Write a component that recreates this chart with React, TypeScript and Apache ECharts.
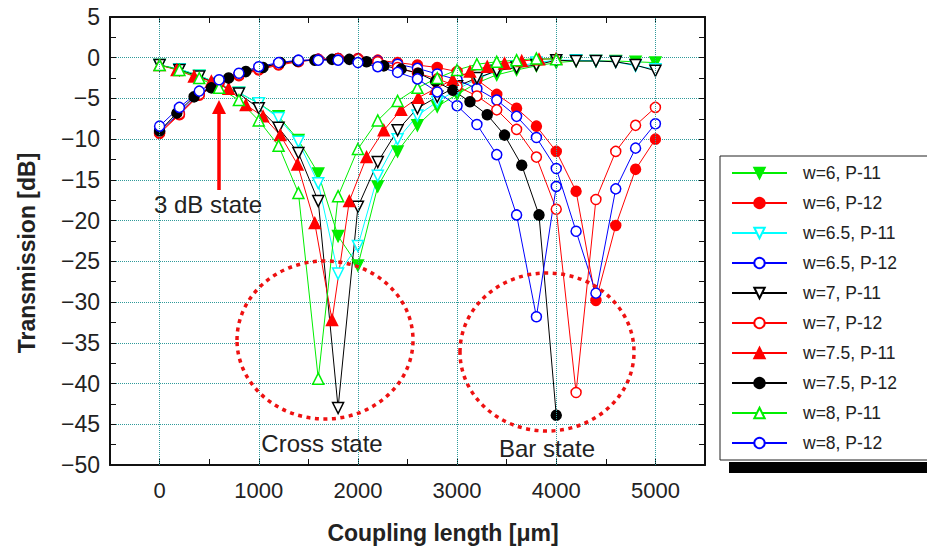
import React, { useEffect, useRef } from "react";
import * as echarts from "echarts";

// Coupling lengths (µm)
const L200 = [0, 200, 400, 600, 800, 1000, 1200, 1400, 1600, 1800, 2000, 2200, 2400, 2600, 2800, 3000, 3200, 3400, 3600, 3800, 4000, 4200, 4400, 4600, 4800, 5000];
const L174 = [0, 174, 348, 522, 696, 870, 1043, 1217, 1391, 1565, 1739, 1913, 2087, 2261, 2435, 2609, 2783, 2957, 3130, 3304, 3478, 3652, 3826, 4000];

// Transmission (dB)
const w6P11 = [-0.9, -1.4, -2.2, -3.2, -4.3, -5.6, -7.2, -10.1, -14.2, -21.9, -25.5, -15.8, -11.5, -8.3, -6.0, -4.5, -3.1, -2.1, -1.5, -1.0, -0.6, -0.4, -0.4, -0.4, -0.5, -0.6];
const w6P12 = [-9.3, -7.0, -4.6, -3.1, -2.2, -1.5, -0.9, -0.5, -0.2, -0.1, -0.1, -0.3, -0.6, -0.9, -1.2, -1.7, -2.7, -4.5, -6.2, -8.4, -11.5, -16.4, -29.8, -20.6, -13.7, -10.0];
const w65P11 = [-0.9, -1.4, -2.2, -3.2, -4.3, -5.6, -7.4, -10.3, -15.4, -26.5, -23.1, -14.5, -10.0, -7.1, -5.4, -3.9, -2.6, -1.6, -1.1, -0.6, -0.3, -0.3, -0.4, -0.5, -1.0, -1.4];
const w65P12 = [-9.0, -6.8, -4.4, -2.9, -2.0, -1.3, -0.7, -0.4, -0.2, -0.1, -0.2, -0.4, -0.8, -1.3, -2.0, -2.7, -3.8, -5.2, -7.2, -9.8, -13.6, -21.3, -28.9, -16.1, -11.1, -8.1];
const w7P11 = [-0.9, -1.5, -2.3, -3.3, -4.4, -6.2, -8.6, -11.7, -17.6, -43.0, -18.3, -12.8, -8.9, -6.2, -4.8, -3.5, -2.5, -1.6, -1.2, -0.9, -0.3, -0.4, -0.4, -0.5, -0.9, -1.6];
const w7P12 = [-9.2, -6.9, -4.5, -3.0, -2.1, -1.4, -0.8, -0.4, -0.2, -0.1, -0.2, -0.5, -1.2, -1.9, -2.6, -3.5, -4.7, -6.4, -8.8, -12.2, -18.6, -41.1, -17.4, -11.5, -8.3, -6.1];
const w75P11 = [-0.9, -1.5, -2.3, -2.9, -3.8, -5.8, -7.2, -9.5, -13.1, -20.3, -32.2, -17.6, -12.2, -8.9, -6.4, -4.9, -3.8, -2.7, -1.7, -1.1, -0.7, -0.4, -0.2, -0.1];
const w75P12 = [-9.0, -6.8, -4.8, -3.7, -2.5, -1.7, -1.2, -0.6, -0.4, -0.3, -0.2, -0.2, -0.5, -1.0, -1.4, -1.9, -2.9, -4.0, -5.4, -7.0, -9.5, -13.2, -19.3, -43.9];
const w8P11 = [-0.9, -1.5, -2.5, -3.7, -5.2, -7.7, -10.8, -16.6, -39.4, -17.0, -11.2, -7.7, -5.3, -3.7, -2.5, -1.5, -0.8, -0.5, -0.3, -0.1, -0.2];
const w8P12 = [-8.4, -6.1, -4.1, -2.7, -1.9, -1.1, -0.6, -0.3, -0.3, -0.3, -0.6, -1.1, -1.8, -2.6, -4.2, -5.9, -8.2, -11.9, -19.3, -31.8, -15.8];

const xGridValues = [0, 1000, 2000, 3000, 4000, 5000];
const xLabelValues = [0, 1000, 2000, 3000, 4000, 5000];

const FONT = '"Liberation Sans", Arial, sans-serif';

type Def = { name: string; xs: number[]; ys: number[]; color: string; symbol: string; filled: boolean; rot: number; size: number };

const defs: Def[] = [
  { name: "w=6, P-11", xs: L200, ys: w6P11, color: "#00ee00", symbol: "triangle", filled: true, rot: 180, size: 11 },
  { name: "w=6, P-12", xs: L200, ys: w6P12, color: "#ff0000", symbol: "circle", filled: true, rot: 0, size: 10 },
  { name: "w=6.5, P-11", xs: L200, ys: w65P11, color: "#00ffff", symbol: "triangle", filled: false, rot: 180, size: 11 },
  { name: "w=6.5, P-12", xs: L200, ys: w65P12, color: "#0000ff", symbol: "circle", filled: false, rot: 0, size: 10 },
  { name: "w=7, P-11", xs: L200, ys: w7P11, color: "#000000", symbol: "triangle", filled: false, rot: 180, size: 11 },
  { name: "w=7, P-12", xs: L200, ys: w7P12, color: "#ff0000", symbol: "circle", filled: false, rot: 0, size: 10 },
  { name: "w=7.5, P-11", xs: L174, ys: w75P11, color: "#ff0000", symbol: "triangle", filled: true, rot: 0, size: 11 },
  { name: "w=7.5, P-12", xs: L174, ys: w75P12, color: "#000000", symbol: "circle", filled: true, rot: 0, size: 10 },
  { name: "w=8, P-11", xs: L200, ys: w8P11, color: "#00ee00", symbol: "triangle", filled: false, rot: 0, size: 11 },
  { name: "w=8, P-12", xs: L200, ys: w8P12, color: "#0000ff", symbol: "circle", filled: false, rot: 0, size: 10 },
];

export default function App() {
  const ref = useRef<HTMLDivElement>(null);
  useEffect(() => {
    document.body.style.margin = "0";
    if (!ref.current) return;
    const chart = echarts.init(ref.current, null, { renderer: "svg" });
    const grid = { left: 110, right: 222, top: 17, bottom: 86 };
    const axisCommon = {
      type: "value",
      axisLine: { show: true, onZero: false, lineStyle: { color: "#111", width: 2 } },
      axisTick: { show: true, inside: true, length: 6, lineStyle: { color: "#111", width: 1 } },
    };
    const series: any[] = [
      {
        type: "line",
        name: "grid",
        data: [],
        silent: true,
        markLine: {
          silent: true,
          symbol: ["none", "none"],
          label: { show: false },
          lineStyle: { type: "dotted", color: "#2f9a9a", width: 1 },
          data: xGridValues.map((v) => ({ xAxis: v })),
        },
      },
      ...defs.map((d) => ({
        type: "line",
        name: d.name,
        data: d.xs.slice(0, d.ys.length).map((x, i) => [x, d.ys[i]]),
        symbol: d.symbol,
        symbolSize: d.size,
        symbolRotate: d.rot,
        showAllSymbol: true,
        lineStyle: { color: d.color, width: 1 },
        itemStyle: {
          color: d.filled ? d.color : "#ffffff",
          borderColor: d.color,
          borderWidth: 1.5,
        },
        z: 3,
      })),
    ];
    chart.setOption({
      animation: false,
      backgroundColor: "#ffffff",
      grid,
      xAxis: [
        {
          ...axisCommon,
          position: "bottom",
          min: -500,
          max: 5500,
          interval: 500,
          splitLine: { show: false },
          axisLabel: {
            margin: 14,
            fontSize: 22,
            fontFamily: FONT,
            color: "#222",
            formatter: (v: number) => (xLabelValues.indexOf(v) >= 0 ? String(v) : ""),
          },
        },
        {
          ...axisCommon,
          position: "top",
          min: -500,
          max: 5500,
          interval: 500,
          splitLine: { show: false },
          axisLabel: { show: false },
        },
      ],
      yAxis: [
        {
          ...axisCommon,
          position: "left",
          min: -50,
          max: 5,
          interval: 5,
          minorTick: { show: true, splitNumber: 2, length: 6, lineStyle: { color: "#111" } },
          splitLine: { show: true, lineStyle: { type: "dotted", color: "#2f9a9a", width: 1 } },
          axisLabel: {
            margin: 10,
            fontSize: 23,
            fontFamily: FONT,
            color: "#222",
            formatter: (v: number) => (v < 0 ? "\u2212" + Math.abs(v) : String(v)),
          },
        },
        {
          ...axisCommon,
          position: "right",
          min: -50,
          max: 5,
          interval: 5,
          minorTick: { show: true, splitNumber: 2, length: 6, lineStyle: { color: "#111" } },
          splitLine: { show: false },
          axisLabel: { show: false },
        },
      ],
      legend: {
        data: defs.map((d) => d.name),
        orient: "vertical",
        left: 720,
        top: 156,
        padding: [7, 80, 7, 11],
        itemGap: 10,
        itemWidth: 55,
        itemHeight: 13,
        backgroundColor: "#ffffff",
        borderColor: "#222",
        borderWidth: 1,
        borderRadius: 0,
        z: 10,
        textStyle: { fontSize: 17.5, fontFamily: FONT, color: "#222", lineHeight: 20, padding: [0, 0, 0, 11] },
      },
      graphic: [
        { type: "rect", z: 1, shape: { x: 729, y: 462, width: 220, height: 11 }, style: { fill: "#000" } },
        {
          type: "ellipse",
          z: 50,
          shape: { cx: 325, cy: 340, rx: 88, ry: 79 },
          style: { fill: "none", stroke: "#ee1111", lineWidth: 3.5, lineDash: [4, 4.5] },
        },
        {
          type: "ellipse",
          z: 50,
          shape: { cx: 547, cy: 352, rx: 87, ry: 79 },
          style: { fill: "none", stroke: "#ee1111", lineWidth: 3.5, lineDash: [4, 4.5] },
        },
        { type: "line", z: 50, shape: { x1: 219, y1: 190, x2: 219, y2: 112 }, style: { stroke: "#ff0000", lineWidth: 3.5 } },
        { type: "polygon", z: 50, shape: { points: [[212, 114], [226, 114], [219, 100]] }, style: { fill: "#ff0000" } },
        {
          type: "text",
          z: 50,
          style: { text: "3 dB state", x: 154, y: 204, font: `24px ${FONT}`, fill: "#222", textVerticalAlign: "middle" },
        },
        {
          type: "text",
          z: 50,
          style: { text: "Cross state", x: 322, y: 443, font: `24px ${FONT}`, fill: "#222", textAlign: "center", textVerticalAlign: "middle" },
        },
        {
          type: "text",
          z: 50,
          style: { text: "Bar state", x: 547, y: 448, font: `24px ${FONT}`, fill: "#222", textAlign: "center", textVerticalAlign: "middle" },
        },
        {
          type: "text",
          z: 50,
          style: { text: "Coupling length [\u03bcm]", x: 443, y: 533, font: `bold 23px ${FONT}`, fill: "#222", textAlign: "center", textVerticalAlign: "middle" },
        },
        {
          type: "text",
          z: 50,
          x: 27,
          y: 253,
          rotation: Math.PI / 2,
          style: { text: "Transmission [dB]", x: 0, y: 0, font: `bold 23px ${FONT}`, fill: "#222", textAlign: "center", textVerticalAlign: "middle" },
        },
      ],
      series,
    });
    return () => chart.dispose();
  }, []);
  return <div ref={ref} style={{ width: 927, height: 551 }} />;
}
